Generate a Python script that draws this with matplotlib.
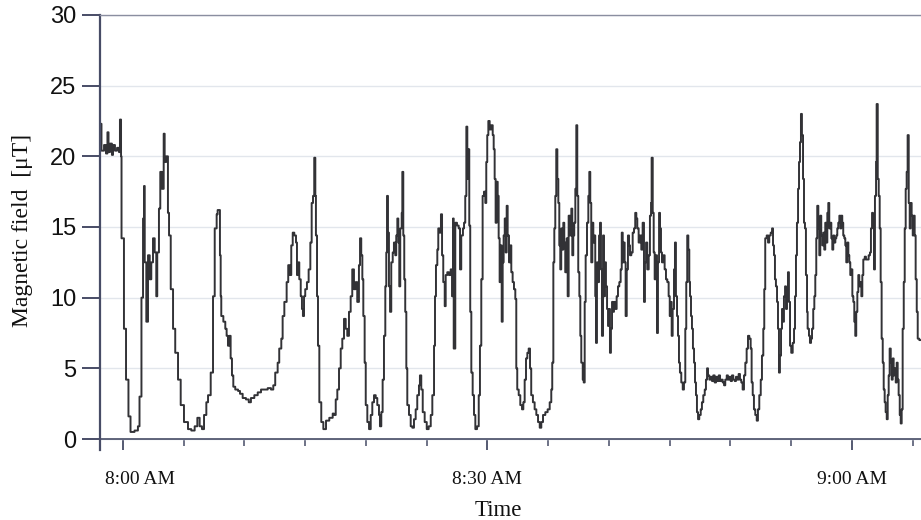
import matplotlib
matplotlib.use('Agg')
import matplotlib.pyplot as plt
import matplotlib.transforms as mtransforms
from matplotlib.ticker import MultipleLocator, FixedLocator

# minutes after 8:00 AM and field strength in uT
minutes = [
    -1.89, -1.85, -1.77, -1.56, -1.40, -1.28, -1.19, -1.07, -0.91, -0.82,
    -0.66, -0.49, -0.33, -0.25, -0.16, -0.12, 0.08, 0.25, 0.45, 0.62,
    0.95, 1.23, 1.36, 1.52, 1.65, 1.73, 1.79, 1.92, 2.06, 2.20,
    2.33, 2.47, 2.61, 2.74, 2.82, 2.96, 3.07, 3.21, 3.35, 3.43,
    3.56, 3.70, 3.79, 3.93, 4.12, 4.30, 4.53, 4.75, 5.02, 5.35,
    5.62, 5.90, 6.12, 6.31, 6.50, 6.67, 6.86, 7.00, 7.22, 7.41,
    7.55, 7.71,
    7.79, 7.98, 8.04, 8.09, 8.26, 8.42, 8.53, 8.64, 8.75, 8.86,
    8.97, 9.08, 9.24, 9.47, 9.63, 9.85, 10.12, 10.35, 10.53, 10.81,
    11.09, 11.36, 11.63, 11.91, 12.18, 12.37, 12.53, 12.73, 12.86, 13.03,
    13.14, 13.28, 13.47, 13.60, 13.74, 13.85, 13.97, 14.10, 14.24, 14.32,
    14.43, 14.51, 14.63, 14.73, 14.81, 14.90, 15.00, 15.14, 15.28, 15.42,
    15.53, 15.64, 15.74, 15.83, 15.88, 15.97, 16.05, 16.16, 16.32, 16.49,
    16.71, 16.98, 17.26,
    17.37, 17.51, 17.64, 17.78, 17.92, 18.05, 18.19, 18.33, 18.46, 18.60,
    18.74, 18.87, 19.01, 19.15, 19.28, 19.42, 19.51, 19.61, 19.70, 19.78,
    19.89, 19.98, 20.11, 20.25, 20.39, 20.52, 20.66, 20.80, 20.93, 21.07,
    21.15, 21.26, 21.37, 21.48, 21.59, 21.67, 21.73, 21.81, 21.89, 21.98,
    22.08, 22.20, 22.30, 22.41, 22.49, 22.58, 22.66, 22.74, 22.82, 22.94,
    22.99, 23.07, 23.15, 23.23, 23.32, 23.40, 23.54, 23.68, 23.81, 23.95,
    24.09, 24.22, 24.36, 24.44, 24.55, 24.67, 24.83, 25.00, 25.16, 25.33,
    25.46, 25.60, 25.68, 25.76, 25.87, 25.95, 26.07, 26.17, 26.26, 26.36,
    26.48, 26.56, 26.69, 26.83, 26.97, 27.08, 27.16, 27.22,
    27.35, 27.49, 27.63, 27.74, 27.84, 27.98, 28.07, 28.17, 28.26, 28.34,
    28.42, 28.50, 28.58, 28.67, 28.78, 28.89, 29.00, 29.14, 29.28, 29.38,
    29.49, 29.60, 29.71, 29.82, 29.90, 29.98, 30.07, 30.18, 30.31, 30.43,
    30.51, 30.59, 30.67, 30.76, 30.84, 30.92, 31.00, 31.09, 31.17, 31.25,
    31.33, 31.42, 31.50, 31.58, 31.66, 31.77, 31.88, 31.96, 32.07, 32.18,
    32.29, 32.37, 32.45, 32.57, 32.70, 32.84, 32.95, 33.06, 33.17, 33.28,
    33.39, 33.50, 33.60, 33.74, 33.88, 34.02, 34.16, 34.30, 34.43, 34.57,
    34.76, 34.95, 35.12, 35.25, 35.33, 35.42, 35.50, 35.58, 35.66, 35.75,
    35.83, 35.91, 35.99, 36.07, 36.16, 36.24, 36.32, 36.40, 36.52, 36.60,
    36.68, 36.79, 36.90,
    36.98, 37.06, 37.14, 37.23, 37.31, 37.39, 37.47, 37.56, 37.64, 37.72,
    37.84, 37.92, 38.00, 38.08, 38.19, 38.30, 38.38, 38.46, 38.54, 38.63,
    38.71, 38.79, 38.87, 38.93, 39.01, 39.09, 39.18, 39.26, 39.34, 39.42,
    39.51, 39.59, 39.67, 39.75, 39.84, 39.92, 40.00, 40.08, 40.16, 40.25,
    40.33, 40.41, 40.52, 40.63, 40.74, 40.85, 40.96, 41.05, 41.13, 41.21,
    41.29, 41.37, 41.46, 41.56, 41.65, 41.73, 41.84, 41.95, 42.06, 42.16,
    42.25, 42.33, 42.44, 42.55, 42.66, 42.77, 42.88, 42.96, 43.05, 43.15,
    43.27, 43.37, 43.46, 43.51, 43.60, 43.68, 43.76, 43.87, 43.95, 44.03,
    44.12, 44.20, 44.28, 44.36, 44.47, 44.58, 44.69, 44.80, 44.91, 45.00,
    45.08, 45.16, 45.24, 45.35, 45.43, 45.51, 45.60, 45.68, 45.76, 45.84,
    45.95, 46.07, 46.17, 46.28, 46.36, 46.44, 46.53, 46.61,
    46.67, 46.75, 46.83, 46.91, 47.00, 47.08, 47.16, 47.24, 47.33, 47.43,
    47.55, 47.65, 47.76, 47.88, 47.98, 48.07, 48.15, 48.26, 48.37, 48.48,
    48.58, 48.70, 48.81, 48.91, 49.03, 49.14, 49.24, 49.36, 49.47, 49.57,
    49.69, 49.79, 49.90, 50.02, 50.12, 50.23, 50.35, 50.45, 50.56, 50.67,
    50.78, 50.89, 51.00, 51.11, 51.22, 51.33, 51.44, 51.55, 51.66, 51.74,
    51.83, 51.93, 52.04, 52.16, 52.26, 52.37, 52.49, 52.59, 52.70, 52.78,
    52.86, 52.98, 53.09, 53.19, 53.31, 53.42, 53.50, 53.58, 53.66, 53.74,
    53.83, 53.91, 53.99, 54.07, 54.16, 54.24, 54.32, 54.40, 54.49, 54.57,
    54.65, 54.73, 54.81, 54.90, 55.00, 55.12, 55.23, 55.31, 55.39, 55.47,
    55.56, 55.64, 55.72, 55.80, 55.88, 55.97, 56.05, 56.13, 56.21, 56.30,
    56.35,
    56.46, 56.54, 56.63, 56.71, 56.81, 56.90, 56.98, 57.06, 57.14, 57.23,
    57.31, 57.39, 57.47, 57.56, 57.64, 57.72, 57.80, 57.88, 57.97, 58.05,
    58.13, 58.21, 58.30, 58.38, 58.46, 58.54, 58.63, 58.71, 58.79, 58.87,
    58.96, 59.04, 59.12, 59.20, 59.28, 59.37, 59.45, 59.53, 59.61, 59.70,
    59.78, 59.86, 59.94, 60.03, 60.11, 60.19, 60.27, 60.35, 60.44, 60.52,
    60.60, 60.68, 60.77, 60.85, 60.93, 61.05, 61.15, 61.26, 61.37, 61.48,
    61.56, 61.65, 61.73, 61.81, 61.89, 61.98, 62.03, 62.12, 62.20, 62.28,
    62.36, 62.44, 62.53, 62.61, 62.69, 62.77, 62.86, 62.94, 63.02, 63.10,
    63.19, 63.27, 63.35, 63.43, 63.51, 63.60, 63.68, 63.76, 63.84, 63.93,
    64.01, 64.09, 64.17, 64.26, 64.34, 64.42, 64.50, 64.58, 64.67, 64.75,
    64.83, 64.91, 65.00, 65.08, 65.16, 65.24, 65.33, 65.41, 65.54, 65.68,
]

field_uT = [
    20.5, 22.3, 20.4, 20.8, 20.2, 21.7, 20.3, 20.9, 20.1, 20.8,
    20.4, 20.6, 20.3, 22.6, 20.0, 14.2, 7.8, 4.2, 1.6, 0.5,
    0.6, 0.9, 3.0, 10.0, 15.6, 17.9, 12.5, 8.3, 13.0, 11.3,
    12.5, 14.2, 13.2, 10.1, 13.2, 16.3, 18.9, 17.7, 21.6, 19.6,
    20.0, 16.0, 14.4, 10.6, 7.8, 6.1, 4.2, 2.4, 1.2, 0.7,
    0.6, 0.9, 1.5, 0.9, 0.7, 1.7, 2.6, 3.1, 4.7, 10.1,
    14.9, 15.9,
    16.2, 13.0, 10.1, 8.7, 8.3, 7.8, 7.3, 6.6, 7.3, 5.7,
    4.5, 3.7, 3.5, 3.4, 3.2, 2.9, 2.8, 2.6, 2.9, 3.1,
    3.3, 3.5, 3.5, 3.6, 3.5, 3.8, 4.7, 5.4, 6.4, 7.1,
    8.7, 9.7, 11.1, 12.3, 11.6, 13.7, 14.6, 14.4, 13.9, 11.6,
    12.5, 11.3, 10.1, 9.2, 8.7, 10.1, 10.6, 11.1, 12.0, 13.9,
    16.7, 17.2, 19.9, 17.2, 14.4, 10.1, 6.6, 2.6, 1.2, 0.7,
    1.3, 1.5, 1.8,
    1.7, 2.8, 3.5, 5.0, 6.4, 7.1, 8.5, 7.8, 7.3, 9.0,
    10.1, 12.0, 10.6, 11.1, 9.7, 12.3, 14.2, 13.0, 11.3, 8.7,
    5.4, 2.4, 1.2, 0.7, 1.7, 2.6, 3.1, 2.9, 2.4, 1.7,
    0.9, 1.9, 4.2, 7.3, 10.8, 13.2, 17.2, 14.6, 10.8, 9.0,
    12.5, 13.2, 13.9, 13.0, 14.4, 15.6, 13.9, 10.8, 14.9, 16.0,
    18.9, 14.4, 11.3, 9.0, 5.0, 2.4, 1.7, 0.9, 0.8, 1.4,
    2.1, 3.1, 3.8, 4.5, 3.5, 1.9, 1.2, 0.7, 0.9, 1.7,
    3.1, 6.6, 10.1, 12.3, 13.4, 14.9, 14.6, 15.9, 13.0, 11.1,
    9.4, 11.6, 11.8, 11.6, 12.0, 10.1, 15.6, 6.4,
    15.3, 15.1, 14.9, 12.0, 14.4, 14.9, 15.3, 17.2, 22.1, 18.4,
    20.5, 15.1, 9.0, 4.7, 3.1, 1.7, 0.7, 0.9, 3.1, 6.6,
    11.3, 17.2, 17.5, 16.7, 19.6, 21.5, 22.5, 21.9, 22.2, 21.5,
    20.5, 18.4, 15.3, 18.2, 17.2, 14.2, 11.1, 13.7, 8.3, 12.5,
    14.4, 15.6, 13.2, 16.5, 14.4, 12.5, 13.7, 11.8, 11.1, 10.6,
    9.9, 5.0, 3.5, 3.1, 2.4, 2.1, 2.6, 4.2, 5.7, 6.1,
    6.4, 5.0, 3.1, 2.6, 2.1, 1.7, 1.2, 0.8, 1.2, 1.7,
    1.9, 2.1, 2.6, 3.5, 5.4, 12.5, 14.9, 17.2, 20.5, 18.4,
    16.7, 13.7, 12.0, 14.9, 13.4, 15.3, 13.9, 11.8, 14.2, 10.1,
    15.8, 14.4, 16.3,
    13.0, 14.4, 15.3, 17.7, 22.2, 17.2, 11.8, 10.1, 7.3, 5.4,
    4.2, 4.0, 9.7, 13.0, 15.3, 17.2, 18.9, 16.7, 12.5, 15.3,
    13.9, 14.4, 10.1, 6.8, 12.5, 11.1, 14.4, 15.3, 12.0, 7.3,
    14.4, 10.1, 12.5, 10.8, 9.2, 8.0, 9.2, 6.1, 7.8, 9.7,
    9.0, 9.7, 9.2, 10.1, 10.8, 11.1, 12.0, 14.6, 12.5, 13.9,
    12.5, 8.7, 12.0, 14.4, 13.7, 13.0, 13.2, 14.6, 14.9, 16.0,
    15.6, 14.9, 13.9, 14.4, 13.4, 15.3, 9.7, 12.5, 13.9, 12.0,
    13.0, 15.8, 16.7, 19.9, 16.0, 13.2, 11.3, 13.0, 7.5, 12.5,
    16.0, 14.9, 13.2, 12.5, 13.0, 12.0, 11.3, 11.1, 10.1, 8.7,
    9.7, 7.3, 9.2, 12.0, 13.9, 10.1, 8.7, 7.3, 5.4, 4.7,
    4.0, 3.5, 4.0, 7.8, 11.1, 14.4, 13.4, 11.1,
    10.1, 8.7, 7.8, 6.4, 5.4, 4.0, 3.1, 1.9, 1.4, 1.7,
    2.1, 2.6, 3.1, 3.5, 4.2, 5.0, 4.5, 4.2, 4.4, 4.1,
    4.5, 4.0, 4.4, 4.1, 4.5, 4.1, 4.2, 4.0, 3.8, 4.2,
    4.5, 4.2, 4.4, 4.1, 4.5, 4.2, 4.1, 4.4, 4.2, 4.6,
    4.2, 4.0, 3.5, 4.5, 5.4, 6.4, 7.3, 7.1, 6.4, 4.0,
    3.1, 2.1, 1.7, 1.3, 2.1, 3.1, 4.2, 5.9, 7.8, 10.6,
    14.2, 14.4, 13.9, 14.4, 14.6, 14.9, 13.7, 13.0, 11.3, 10.8,
    9.7, 7.8, 4.7, 5.9, 7.8, 9.2, 8.3, 10.1, 10.8, 9.2,
    10.1, 11.8, 9.7, 6.6, 6.1, 6.8, 7.8, 10.1, 13.0, 15.3,
    17.7, 19.6, 21.0, 23.0, 21.5, 18.4, 15.3, 14.9, 11.6, 9.0,
    7.8,
    7.3, 6.8, 7.1, 7.8, 9.2, 10.1, 11.6, 14.2, 16.5, 14.9,
    13.0, 15.8, 14.4, 13.7, 14.6, 13.4, 15.3, 13.9, 16.0, 16.7,
    14.9, 15.3, 14.2, 13.4, 14.4, 13.9, 14.2, 14.4, 14.9, 15.3,
    15.8, 14.9, 15.8, 15.3, 14.4, 14.2, 13.7, 12.5, 13.9, 13.0,
    12.5, 11.6, 12.0, 10.1, 9.7, 8.3, 7.3, 9.0, 10.4, 11.6,
    10.8, 11.1, 10.1, 11.6, 12.7, 12.9, 12.7, 12.7, 13.0, 13.2,
    14.9, 16.0, 15.3, 12.0, 17.2, 19.6, 23.7, 18.4, 17.2, 14.9,
    11.1, 7.1, 5.4, 3.5, 2.6, 1.9, 1.4, 3.1, 4.5, 6.4,
    5.4, 4.2, 5.7, 4.5, 5.0, 4.0, 5.4, 4.2, 3.1, 1.7,
    1.1, 2.1, 7.8, 11.1, 14.9, 17.7, 18.9, 21.5, 16.7, 14.9,
    16.7, 15.8, 14.4, 15.8, 14.4, 11.3, 9.0, 7.1, 7.0, 7.0,
]

assert len(minutes) == len(field_uT)

time_ticks = [0, 30, 60]
time_labels = ['8:00 AM', '8:30 AM', '9:00 AM']
y_ticks = [0, 5, 10, 15, 20, 25, 30]

SERIF = ['Liberation Serif', 'DejaVu Serif']
SANS = ['Liberation Sans', 'DejaVu Sans']
SPINE = '#474c66'

fig = plt.figure(figsize=(9.21, 5.2), dpi=100)
ax = fig.add_axes([0.1086, 0.134, 0.8914, 0.8372])

ax.plot(minutes, field_uT, drawstyle='steps-post', color='#323236', linewidth=1.4)

ax.set_xlim(-1.89, 65.68)
ax.set_ylim(-0.8, 30)

ax.spines['right'].set_visible(False)
ax.spines['bottom'].set_position(('data', 0))
ax.spines['bottom'].set_color(SPINE)
ax.spines['bottom'].set_linewidth(1.2)
ax.spines['left'].set_color(SPINE)
ax.spines['left'].set_linewidth(1.6)
ax.spines['top'].set_color('#8a8ea0')
ax.spines['top'].set_linewidth(1.0)

ax.yaxis.set_major_locator(FixedLocator(y_ticks))
ax.set_yticklabels([str(v) for v in y_ticks], family=SANS, fontsize=17)
ax.tick_params(axis='y', direction='out', length=13, width=1.4, color=SPINE,
               pad=4, labelcolor='#111111')

ax.set_xticks(time_ticks)
ax.set_xticklabels(time_labels, family=SERIF, fontsize=14)
ax.xaxis.set_minor_locator(MultipleLocator(5))
ax.tick_params(axis='x', which='major', direction='out', length=8, width=1.3,
               color=SPINE, pad=15, labelcolor='#111111')
ax.tick_params(axis='x', which='minor', direction='out', length=5, width=1.1,
               color=SPINE)

# first label sits a bit to the right of its tick in the original
first = ax.get_xticklabels()[0]
first.set_transform(first.get_transform() +
                    mtransforms.ScaledTranslation(0.17, 0, fig.dpi_scale_trans))

ax.grid(axis='y', color='#e2e6ec', linewidth=1.0)
ax.set_axisbelow(True)

ax.set_xlabel('Time', family=SERIF, fontsize=16.5, color='#111111')
ax.xaxis.set_label_coords(0.485, -0.113)
ax.set_ylabel('Magnetic field  [\u03bcT]', family=SERIF, fontsize=17, color='#111111')
ax.yaxis.set_label_coords(-0.082, 0.506)

fig.savefig('out.png', dpi=100)
plt.close(fig)
